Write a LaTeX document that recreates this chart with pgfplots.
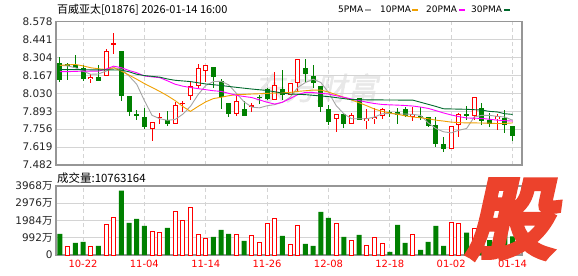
\documentclass[border=0pt]{standalone}
\usepackage{pgfplots}
\pgfplotsset{compat=1.18}
\usepackage{pgfplotstable}
\usepackage{fontspec}
\setmainfont{DejaVu Sans}
\newfontfamily\cjk{Noto Sans CJK SC}
\newfontfamily\wmfont{Noto Sans CJK SC}[FakeSlant=0.2,FakeBold=1.5]
\newfontfamily\logofont{Noto Sans CJK SC}[FakeSlant=0.22,FakeBold=9]
\definecolor{cgreen}{RGB}{0,128,0}
\definecolor{cred}{RGB}{255,0,0}
\definecolor{ma5}{RGB}{165,165,165}
\definecolor{ma10}{RGB}{240,160,0}
\definecolor{ma20}{RGB}{255,0,255}
\definecolor{ma30}{RGB}{0,105,45}
\definecolor{framec}{RGB}{150,150,150}
\definecolor{gridc}{RGB}{212,212,212}
\definecolor{logoc}{RGB}{236,66,44}

% green (down) candles: index open high low close
\pgfplotstableread{
i o h l c
0 8.264 8.306 8.120 8.130
1 8.256 8.260 8.133 8.240
2 8.248 8.327 8.224 8.226
3 8.226 8.246 8.126 8.138
5 8.156 8.246 8.126 8.128
8 8.357 8.357 7.972 8.007
9 8.007 8.007 7.857 7.884
10 7.870 7.905 7.826 7.858
11 7.852 7.919 7.761 7.769
14 7.824 7.894 7.781 7.794
20 8.231 8.231 8.073 8.158
21 8.126 8.143 7.912 8.000
22 7.955 7.955 7.849 7.874
24 7.909 7.970 7.854 7.854
26 8.005 8.020 7.950 7.995
27 8.066 8.070 7.980 7.985
29 8.063 8.205 7.980 8.020
32 8.224 8.289 8.117 8.181
33 8.164 8.247 8.072 8.110
34 8.088 8.088 7.888 7.925
35 7.907 7.944 7.786 7.810
37 7.874 7.878 7.767 7.795
39 7.997 7.997 7.824 7.824
43 7.887 7.904 7.850 7.882
44 7.889 7.917 7.794 7.862
45 7.907 7.929 7.849 7.853
47 7.856 7.929 7.824 7.849
48 7.852 7.852 7.774 7.779
49 7.786 7.849 7.618 7.646
50 7.646 7.698 7.585 7.603
53 7.874 7.937 7.829 7.854
55 7.917 7.955 7.786 7.819
56 7.824 7.879 7.769 7.799
58 7.841 7.904 7.728 7.786
59 7.781 7.781 7.668 7.706
}\greentab

% red (up) candles: index open high low close
\pgfplotstableread{
i o h l c
4 8.138 8.181 8.108 8.156
6 8.162 8.370 8.162 8.355
7 8.405 8.494 8.330 8.412
12 7.755 7.814 7.666 7.814
13 7.840 7.879 7.794 7.852
15 7.794 7.962 7.794 7.944
16 7.952 7.975 7.887 7.960
17 8.008 8.120 7.980 8.086
18 8.086 8.256 8.072 8.224
19 8.199 8.246 8.113 8.246
23 7.874 8.012 7.854 7.975
25 7.929 7.955 7.887 7.944
28 7.982 8.190 7.982 8.092
30 8.020 8.107 8.014 8.107
31 8.110 8.291 8.047 8.291
36 7.831 7.874 7.732 7.874
38 7.798 7.879 7.794 7.868
40 7.817 7.910 7.758 7.842
41 7.831 7.917 7.799 7.849
42 7.856 7.915 7.836 7.913
46 7.849 7.929 7.819 7.874
51 7.603 7.781 7.603 7.781
52 7.786 7.879 7.698 7.869
54 7.854 8.000 7.824 8.000
57 7.836 7.874 7.753 7.854
}\redtab

\pgfplotstableread{
i v
0 8.244
1 8.240
2 8.226
3 8.200
4 8.176
5 8.178
6 8.200
7 8.226
8 8.214
9 8.163
10 8.100
11 7.975
12 7.862
13 7.836
14 7.824
15 7.830
16 7.870
17 7.930
18 8.020
19 8.090
20 8.120
21 8.122
22 8.095
23 8.030
24 7.965
25 7.925
26 7.919
27 7.935
28 7.944
29 7.962
30 8.000
31 8.075
32 8.113
33 8.138
34 8.113
35 8.038
36 7.937
37 7.874
38 7.836
39 7.836
40 7.836
41 7.849
42 7.874
43 7.876
44 7.872
45 7.872
46 7.869
47 7.862
48 7.804
49 7.761
50 7.736
51 7.728
52 7.748
53 7.761
54 7.849
55 7.862
56 7.862
57 7.854
58 7.849
59 7.824
}\maA

\pgfplotstableread{
i v
0 8.244
1 8.248
2 8.251
3 8.240
4 8.226
5 8.218
6 8.213
7 8.226
8 8.200
9 8.170
10 8.138
11 8.105
12 8.075
13 8.045
14 8.012
15 7.975
16 7.930
17 7.892
18 7.930
19 7.965
20 7.990
21 8.000
22 8.012
23 8.020
24 8.022
25 8.025
26 8.027
27 8.030
28 8.032
29 8.034
30 8.037
31 8.045
32 8.050
33 8.055
34 8.055
35 8.040
36 8.020
37 8.000
38 7.980
39 7.958
40 7.935
41 7.910
42 7.892
43 7.880
44 7.870
45 7.858
46 7.849
47 7.843
48 7.836
49 7.825
50 7.818
51 7.810
52 7.806
53 7.804
54 7.804
55 7.803
56 7.802
57 7.799
58 7.800
59 7.804
}\maB

\pgfplotstableread{
i v
0 8.196
1 8.196
2 8.198
3 8.200
4 8.200
5 8.200
6 8.215
7 8.238
8 8.226
9 8.205
10 8.188
11 8.163
12 8.156
13 8.150
14 8.126
15 8.100
16 8.085
17 8.075
18 8.066
19 8.058
20 8.050
21 8.045
22 8.030
23 8.015
24 8.006
25 7.998
26 7.980
27 7.962
28 7.948
29 7.962
30 7.990
31 8.020
32 8.038
33 8.036
34 8.030
35 8.025
36 8.012
37 8.000
38 7.987
39 7.975
40 7.962
41 7.952
42 7.945
43 7.942
44 7.940
45 7.937
46 7.933
47 7.925
48 7.915
49 7.898
50 7.880
51 7.865
52 7.852
53 7.842
54 7.840
55 7.838
56 7.832
57 7.825
58 7.821
59 7.818
}\maC

\pgfplotstableread{
i v
0 8.212
2 8.212
4 8.210
6 8.210
8 8.208
9 8.195
10 8.176
11 8.166
12 8.160
13 8.154
14 8.140
15 8.130
17 8.120
19 8.102
21 8.090
23 8.076
25 8.063
27 8.052
29 8.032
30 8.025
32 8.020
35 8.005
37 7.990
38 7.982
41 7.980
46 7.978
47 7.962
48 7.946
49 7.930
50 7.912
53 7.908
55 7.902
56 7.892
57 7.888
58 7.874
59 7.869
}\maD

% volume in units of 10^4 shares
\pgfplotstableread{
i v
0 1213
2 693
3 751
5 520
8 3698
9 1849
10 2080
11 1676
14 1560
20 1040
21 1445
22 1213
24 809
29 1098
32 636
33 520
34 2485
35 2138
37 1040
39 1156
43 173
44 1733
45 693
47 289
48 751
49 1676
50 520
53 1290
55 1156
56 860
57 900
58 1772
59 1076
}\gvol

\pgfplotstableread{
i v
1 501
4 501
6 1733
7 2176
12 1367
13 1271
15 2523
16 2003
17 2754
18 1194
19 963
23 1194
25 1136
26 732
27 1830
28 2119
30 616
31 1676
36 1830
38 847
40 559
41 1021
42 674
46 1194
51 1887
52 1791
54 1500
}\rvol

\pgfplotsset{
  panel/.style={
    scale only axis, width=466bp,
    xmin=-0.52, xmax=60.23,
    axis line style={draw=framec, line width=1.4bp},
    xtick={3,11,19,27,35,43,51,59},
    xmajorgrids, ymajorgrids,
    major x grid style={draw=gridc, line width=0.9bp, dash pattern=on 4bp off 3bp},
    major y grid style={draw=gridc, line width=0.9bp},
    major tick length=0pt,
    scaled ticks=false,
    yticklabel style={font=\fontsize{10.5}{12}\selectfont, text=black!85},
  },
  wick/.style={draw=none, mark=none, forget plot,
    error bars/.cd, y dir=both, y explicit, error mark=none,
    error bar style={draw=#1, line width=1bp}},
  body/.style 2 args={draw=none, mark=none, forget plot,
    error bars/.cd, y dir=both, y explicit, error mark=none,
    error bar style={draw=#1, line width=#2}},
}

\begin{document}
\begin{tikzpicture}
\useasboundingbox (0,0) rectangle (578bp,-276bp);
\fill[white] (0,0) rectangle (578bp,-276bp);

% faint watermark
\node[text=black!9, font=\wmfont\fontsize{31}{33}\selectfont, inner sep=0] at (316bp,-88bp) {东方财富};

% title and legend
\node[anchor=west, inner sep=0, font=\cjk\fontsize{11}{13}\selectfont] at (57bp,-9.5bp) {百威亚太[01876] 2026-01-14 16:00};
\node[anchor=west, inner sep=0, font=\fontsize{9}{11}\selectfont] at (338bp,-9.5bp) {5PMA};
\draw[ma5, line width=2.5bp] (365bp,-10bp) -- (371bp,-10bp);
\node[anchor=west, inner sep=0, font=\fontsize{9}{11}\selectfont] at (380bp,-9.5bp) {10PMA};
\draw[ma10, line width=2.5bp] (412bp,-10bp) -- (418bp,-10bp);
\node[anchor=west, inner sep=0, font=\fontsize{9}{11}\selectfont] at (426bp,-9.5bp) {20PMA};
\draw[ma20, line width=2.5bp] (459bp,-10bp) -- (465bp,-10bp);
\node[anchor=west, inner sep=0, font=\fontsize{9}{11}\selectfont] at (471bp,-9.5bp) {30PMA};
\draw[ma30, line width=2.5bp] (504bp,-10bp) -- (510bp,-10bp);

% price panel
\begin{axis}[panel,
  at={(56bp,-165bp)}, anchor=south west, height=143.3bp,
  ymin=7.482, ymax=8.578,
  ytick={7.482,7.619,7.756,7.893,8.030,8.167,8.304,8.441,8.578},
  yticklabels={7.482,7.619,7.756,7.893,8.030,8.167,8.304,8.441,8.578},
  xticklabels={,,,,,,,},
]
% green candles
\addplot[wick=cgreen] table[x=i, y expr={(\thisrow{h}+\thisrow{l})/2}, y error expr={(\thisrow{h}-\thisrow{l})/2}] {\greentab};
\addplot[body={cgreen}{5bp}] table[x=i, y expr={(\thisrow{o}+\thisrow{c})/2}, y error expr={max((\thisrow{o}-\thisrow{c})/2,0.004)}] {\greentab};
% red candles (hollow)
\addplot[wick=cred] table[x=i, y expr={(\thisrow{h}+\thisrow{l})/2}, y error expr={(\thisrow{h}-\thisrow{l})/2}] {\redtab};
\addplot[body={cred}{5bp}] table[x=i, y expr={(\thisrow{o}+\thisrow{c})/2}, y error expr={max((\thisrow{c}-\thisrow{o})/2,0.004)}] {\redtab};
\addplot[body={white}{3bp}] table[x=i, y expr={(\thisrow{o}+\thisrow{c})/2}, y error expr={max((\thisrow{c}-\thisrow{o})/2-0.0076,0)}] {\redtab};
% moving averages
\addplot[ma5, line width=0.9bp, mark=none] table[x=i, y=v] {\maA};
\addplot[ma10, line width=0.9bp, mark=none] table[x=i, y=v] {\maB};
\addplot[ma20, line width=0.9bp, mark=none] table[x=i, y=v] {\maC};
\addplot[ma30, line width=0.9bp, mark=none] table[x=i, y=v] {\maD};
\end{axis}

\node[anchor=west, inner sep=0, font=\cjk\fontsize{11.5}{13}\selectfont] at (57bp,-178bp) {成交量:10763164};

% volume panel
\begin{axis}[panel,
  at={(56bp,-255bp)}, anchor=south west, height=69bp,
  ymin=0, ymax=3968,
  ytick={0,992,1984,2976,3968},
  yticklabels={0,992{\cjk 万},1984{\cjk 万},2976{\cjk 万},3968{\cjk 万}},
  xticklabels={10-22,11-04,11-14,11-26,12-08,12-18,01-02,01-14},
  xticklabel style={text=cred, font=\fontsize{10}{12}\selectfont, yshift=-1.5bp},
]
\addplot[ybar, bar width=5bp, bar shift=0pt, fill=cgreen, draw=none] table[x=i, y=v] {\gvol};
\addplot[ybar, bar width=4bp, bar shift=0pt, fill=white, draw=cred, line width=1bp] table[x=i, y=v] {\rvol};
\end{axis}

% brand mark
\node[text=logoc, font=\logofont\fontsize{86}{86}\selectfont, inner sep=0] at (510bp,-219bp) {股};
\end{tikzpicture}
\end{document}
